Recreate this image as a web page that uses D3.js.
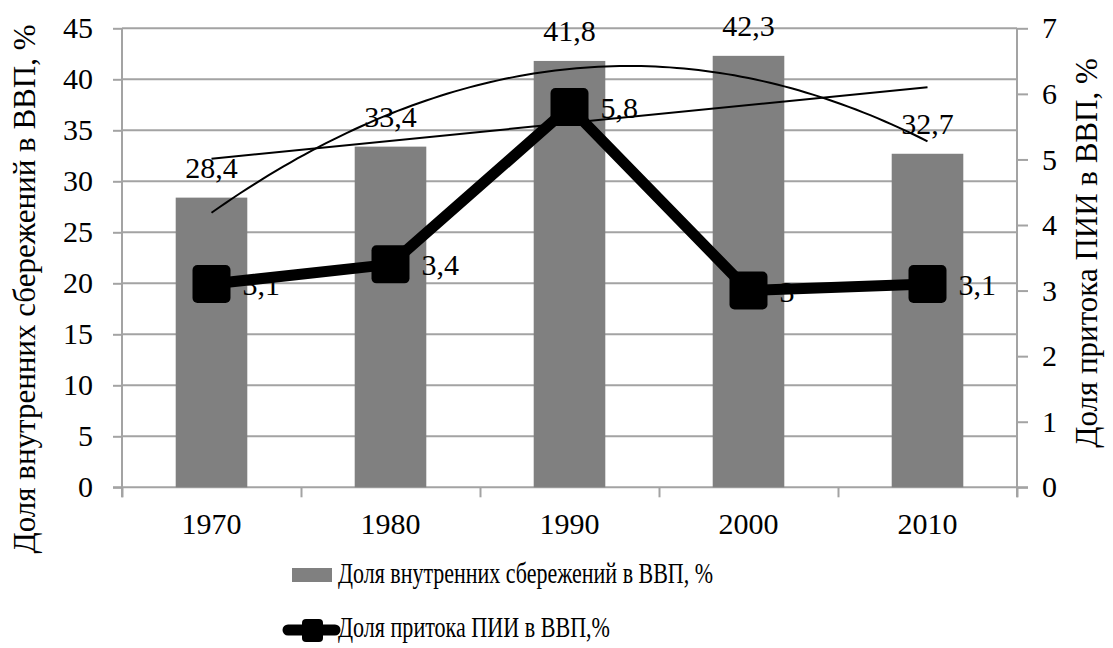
<!DOCTYPE html>
<html><head><meta charset="utf-8">
<script src="https://cdn.jsdelivr.net/npm/d3@7"></script>
<style>
html,body{margin:0;padding:0;background:#fff;}
svg text{font-family:'Liberation Serif','Times New Roman',serif !important;fill:#000;}
</style></head>
<body>
<svg id="c" width="1113" height="648" font-family="Liberation Serif"></svg>
<script>
const years = ['1970','1980','1990','2000','2010'];
const savings = [28.4, 33.4, 41.8, 42.3, 32.7];
const fdi = [3.1, 3.4, 5.8, 3, 3.1];
const leftTicks = [0,5,10,15,20,25,30,35,40,45];
const rightTicks = [0,1,2,3,4,5,6,7];
const leftTitle = 'Доля внутренних сбережений в ВВП, %';
const rightTitle = 'Доля притока ПИИ в ВВП, %';
const legendLabels = ['Доля внутренних сбережений в ВВП, %', 'Доля притока ПИИ в ВВП,%'];

const FONT = "'Liberation Serif','Times New Roman',serif";
const svg = d3.select('#c');
const X0 = 122, X1 = 1017, Y0 = 487.3, Y1 = 28.3;
const grid = '#a3a3a3', barColor = '#808080';
const fmt = d => String(d).replace('.', ',');

const x = d3.scaleBand().domain(years).range([X0, X1]).padding(0);
const bw = x.bandwidth();
const cx = d => x(d) + bw / 2;
const yL = d3.scaleLinear().domain([0, 45]).range([Y0, Y1]);
const yR = d3.scaleLinear().domain([0, 7]).range([Y0, Y1]);

// gridlines
svg.append('g').selectAll('line').data(leftTicks.filter(d => d > 0)).join('line')
  .attr('x1', X0).attr('x2', X1).attr('y1', d => yL(d)).attr('y2', d => yL(d))
  .attr('stroke', grid).attr('stroke-width', 2);

// axes
const axL = svg.append('g').attr('transform', `translate(${X0},0)`)
  .call(d3.axisLeft(yL).tickValues(leftTicks).tickSize(9).tickPadding(20).tickFormat(fmt));
const axR = svg.append('g').attr('transform', `translate(${X1},0)`)
  .call(d3.axisRight(yR).tickValues(rightTicks).tickSize(11).tickPadding(14).tickFormat(fmt));
const xb = d3.scaleLinear().domain([0, years.length]).range([X0, X1]);
const axB = svg.append('g').attr('transform', `translate(0,${Y0})`)
  .call(d3.axisBottom(xb).tickValues(d3.range(years.length + 1)).tickSize(10).tickFormat(''));
[axL, axR, axB].forEach(a => {
  a.attr('font-family', FONT).attr('font-size', 30);
  a.selectAll('line').attr('stroke', grid).attr('stroke-width', 2);
  a.select('.domain').remove();
  a.selectAll('text').attr('font-size', 30).attr('font-family', FONT).attr('fill', '#000');
});
svg.append('line').attr('x1', X0).attr('x2', X0).attr('y1', Y1).attr('y2', Y0 + 10).attr('stroke', grid).attr('stroke-width', 2);
svg.append('line').attr('x1', X1).attr('x2', X1).attr('y1', Y1).attr('y2', Y0 + 10).attr('stroke', grid).attr('stroke-width', 2);
svg.append('line').attr('x1', X0 - 9).attr('x2', X1 + 11).attr('y1', Y0).attr('y2', Y0).attr('stroke', grid).attr('stroke-width', 2);

// x labels
svg.append('g').selectAll('text').data(years).join('text')
  .attr('x', d => cx(d)).attr('y', 534).attr('text-anchor', 'middle')
  .attr('font-family', FONT).attr('font-size', 30).text(d => d);

// bars
svg.append('g').selectAll('rect').data(savings).join('rect')
  .attr('x', (d, i) => x(years[i]) + bw * 0.3).attr('width', bw * 0.4)
  .attr('y', d => yL(d)).attr('height', d => Y0 - yL(d)).attr('fill', barColor);

// bar labels
svg.append('g').selectAll('text').data(savings).join('text')
  .attr('x', (d, i) => cx(years[i])).attr('y', d => yL(d) - 20)
  .attr('text-anchor', 'middle').attr('font-family', FONT).attr('font-size', 30).text(fmt);

// line labels
svg.append('g').selectAll('text').data(fdi).join('text')
  .attr('x', (d, i) => cx(years[i]) + 31).attr('y', d => yR(d) + 11)
  .attr('font-family', FONT).attr('font-size', 30).text(fmt);

// line
svg.append('path').datum(fdi)
  .attr('d', d3.line().x((d, i) => cx(years[i])).y(d => yR(d)))
  .attr('fill', 'none').attr('stroke', '#000').attr('stroke-width', 11).attr('stroke-linejoin', 'round');
const ms = 38;
svg.append('g').selectAll('rect').data(fdi).join('rect')
  .attr('x', (d, i) => cx(years[i]) - ms / 2).attr('y', d => yR(d) - ms / 2)
  .attr('width', ms).attr('height', ms).attr('rx', 5).attr('fill', '#000');

// trend lines (linear and 2nd-order polynomial fitted to savings)
const n = savings.length;
const t = d3.range(n).map(i => i - (n - 1) / 2);
const mean = d3.mean(savings);
const slope = d3.sum(t, (v, i) => v * savings[i]) / d3.sum(t, v => v * v);
const q = t.map(v => v * v - d3.mean(t, u => u * u));
const c2 = d3.sum(q, (v, i) => v * savings[i]) / d3.sum(q, v => v * v);
const a0 = mean - c2 * d3.mean(t, u => u * u);
const tx = d3.scaleLinear().domain([t[0], t[n - 1]]).range([cx(years[0]), cx(years[n - 1])]);
svg.append('line').attr('x1', tx(t[0])).attr('x2', tx(t[n - 1]))
  .attr('y1', yL(mean + slope * t[0])).attr('y2', yL(mean + slope * t[n - 1]))
  .attr('stroke', '#000').attr('stroke-width', 2);
const ts = d3.range(0, 101).map(k => t[0] + (t[n - 1] - t[0]) * k / 100);
svg.append('path').datum(ts)
  .attr('d', d3.line().x(v => tx(v)).y(v => yL(a0 + slope * v + c2 * v * v)))
  .attr('fill', 'none').attr('stroke', '#000').attr('stroke-width', 2);

// axis titles
svg.append('text').attr('transform', 'translate(35,289) rotate(-90)')
  .attr('text-anchor', 'middle').attr('font-family', FONT).attr('font-size', 31).text(leftTitle);
svg.append('text').attr('transform', 'translate(1097,253) rotate(-90)')
  .attr('text-anchor', 'middle').attr('font-family', FONT).attr('font-size', 31).text(rightTitle);

// legend
svg.append('rect').attr('x', 292).attr('y', 568).attr('width', 40).attr('height', 14).attr('fill', barColor);
svg.append('text').attr('x', 338).attr('y', 583).attr('font-family', FONT).attr('font-size', 30)
  .attr('textLength', 375).attr('lengthAdjust', 'spacingAndGlyphs').text(legendLabels[0]);
svg.append('line').attr('x1', 288).attr('x2', 335).attr('y1', 630).attr('y2', 630)
  .attr('stroke', '#000').attr('stroke-width', 11).attr('stroke-linecap', 'round');
svg.append('rect').attr('x', 302).attr('y', 619).attr('width', 21).attr('height', 23).attr('rx', 4).attr('fill', '#000');
svg.append('text').attr('x', 338).attr('y', 637).attr('font-family', FONT).attr('font-size', 30)
  .attr('textLength', 272).attr('lengthAdjust', 'spacingAndGlyphs').text(legendLabels[1]);
</script>
</body></html>
